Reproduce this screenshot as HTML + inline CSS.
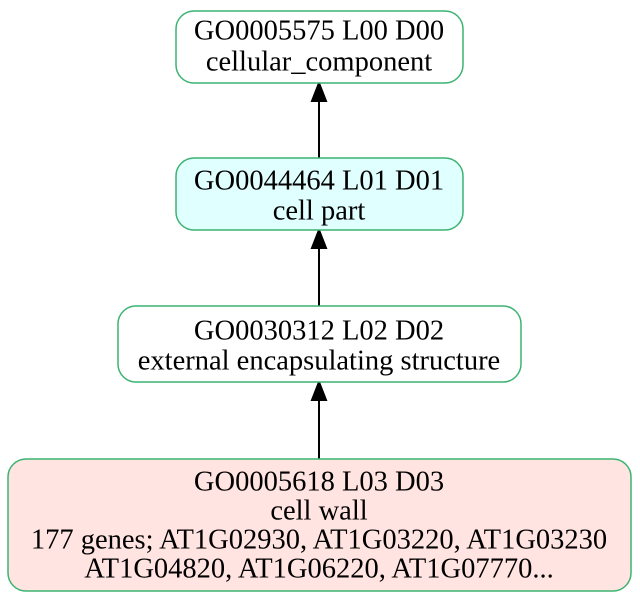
<!DOCTYPE html>
<html><head><meta charset="utf-8"><style>body{margin:0;background:#fff}svg{display:block}</style></head><body>
<svg width="640" height="600" xmlns="http://www.w3.org/2000/svg" font-family="Liberation Serif, serif" font-size="21" text-anchor="middle">
<g stroke="#000" stroke-width="2">
<line x1="319" y1="158" x2="319" y2="84"/><path d="M312,101 L319,83 L326,101 z" fill="#000"/>
<line x1="319" y1="306" x2="319" y2="231"/><path d="M312,248 L319,230 L326,248 z" fill="#000"/>
<line x1="319" y1="459" x2="319" y2="383"/><path d="M312,400 L319,382 L326,400 z" fill="#000"/>
</g>
<g stroke="#3cb371" stroke-width="1.5">
<rect x="176" y="11" width="287" height="72" rx="18" fill="#fff"/>
<rect x="176" y="158" width="287" height="72" rx="18" fill="#e0ffff"/>
<rect x="118" y="306" width="403" height="76" rx="18" fill="#fff"/>
<rect x="8" y="459" width="623" height="132" rx="18" fill="#ffe4e1"/>
</g>
<g dominant-baseline="central" fill="#000" style="font-size:28.5px">
<text x="319" y="31">GO0005575 L00 D00</text>
<text x="319" y="62">cellular_component</text>
<text x="319" y="181">GO0044464 L01 D01</text>
<text x="319" y="211">cell part</text>
<text x="319" y="331">GO0030312 L02 D02</text>
<text x="319" y="361">external encapsulating structure</text>
<text x="319" y="482">GO0005618 L03 D03</text>
<text x="319" y="511">cell wall</text>
<text x="319" y="540">177 genes; AT1G02930, AT1G03220, AT1G03230</text>
<text x="319" y="569">AT1G04820, AT1G06220, AT1G07770...</text>
</g>
</svg>
</body></html>
